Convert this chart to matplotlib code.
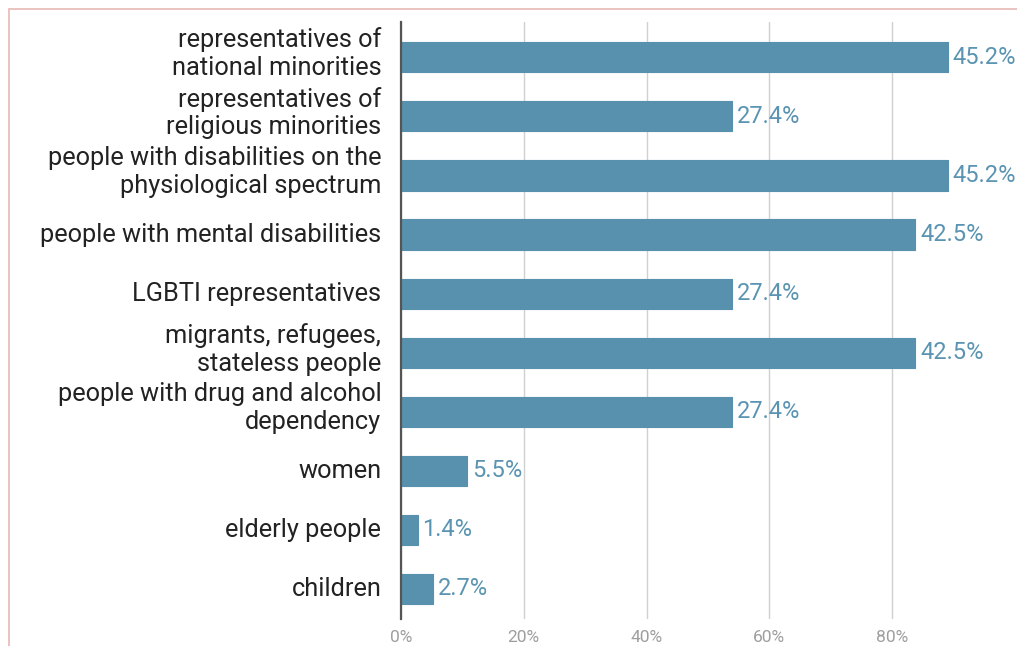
import matplotlib.pyplot as plt
from matplotlib.patches import Rectangle
from matplotlib.ticker import FixedLocator, FixedFormatter

plt.rcParams['font.family'] = ['Roboto', 'DejaVu Sans']

groups = [
    'representatives of\nnational minorities',
    'representatives of\nreligious minorities',
    'people with disabilities on the\nphysiological spectrum',
    'people with mental disabilities',
    'LGBTI representatives',
    'migrants, refugees,\nstateless people',
    'people with drug and alcohol\ndependency',
    'women',
    'elderly people',
    'children',
]
shares = [45.2, 27.4, 45.2, 42.5, 27.4, 42.5, 27.4, 5.5, 1.4, 2.7]
tick_values = [0, 20, 40, 60, 80]
tick_labels = ['0%', '20%', '40%', '60%', '80%']

# the printed scale runs at roughly twice the stated shares
SCALE = 1.97

bar_color = '#5891ae'

fig = plt.figure(figsize=(10.17, 6.46), dpi=100)
W, H = 1017, 646
ax = fig.add_axes([400.7 / W, 1 - 619 / H, (W - 400.7) / W, (619 - 22.3) / H])

ypos = list(range(len(groups)))
bars = ax.barh(ypos, shares, height=0.51, color=bar_color,
               edgecolor=bar_color, linewidth=0.8, zorder=3)
for b in bars:
    b.set_joinstyle('round')

for y, v in zip(ypos, shares):
    ax.annotate(f'{v}%', (v, y), xytext=(3.5, 0), textcoords='offset points',
                ha='left', va='center', fontsize=17, color='#5a94b2',
                annotation_clip=False)

# category names drawn by hand so two-line names can sit a bit higher
ax.set_yticks([])
for y, name in zip(ypos, groups):
    lift = 2.5 if '\n' in name else 0
    ax.annotate(name, (0, y), xytext=(-14, lift), textcoords='offset points',
                ha='right', va='center', fontsize=18.3, color='#222222',
                linespacing=1.2, annotation_clip=False)

ax.set_ylim(9.508, -0.593)
ax.set_xlim(0, (W - 400.7) / 122.9 * 20 / SCALE)

ax.xaxis.set_major_locator(FixedLocator([t / SCALE for t in tick_values]))
ax.xaxis.set_major_formatter(FixedFormatter(tick_labels))
ax.tick_params(axis='x', length=0, pad=8, labelsize=12.5, labelcolor='#9e9e9e')

ax.grid(axis='x', color='#d0d0d0', linewidth=1, zorder=0)
ax.grid(axis='y', visible=False)
for side in ['top', 'right', 'bottom']:
    ax.spines[side].set_visible(False)
ax.spines['left'].set_color('#555555')
ax.spines['left'].set_linewidth(1.6)
ax.spines['left'].set_zorder(4)

# thin frame around the panel
fig.patches.append(Rectangle((9 / W, -0.1), 1.2, 1 - 9 / H + 0.1,
                             transform=fig.transFigure, fill=False,
                             edgecolor='#e8b8b4', linewidth=1.2))

fig.savefig('out.png', dpi=100)
